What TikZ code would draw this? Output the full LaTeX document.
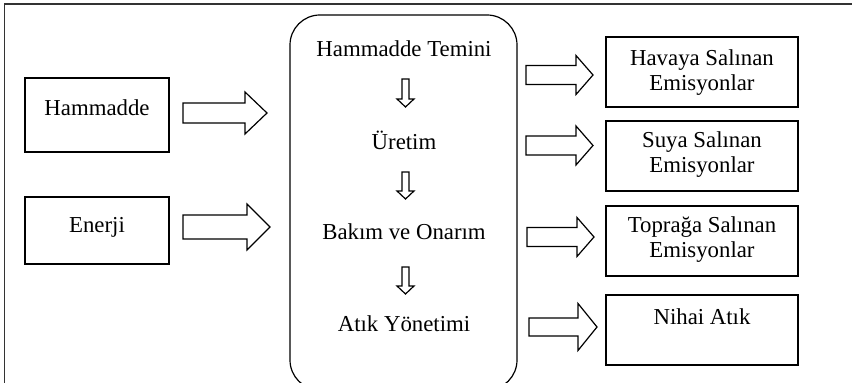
\documentclass[tikz,border=0pt]{standalone}
\usepackage{fontspec}
\setmainfont{Liberation Serif}
\usetikzlibrary{positioning}

% block arrow: start x, end x, mid y, shaft half, head half, head length
\newcommand{\blockarr}[7]{%
\draw[arrbody] (#2,#4-#5) -- (#3-#7,#4-#5) -- (#3-#7,#4-#6) -- (#3,#4)
  -- (#3-#7,#4+#6) -- (#3-#7,#4+#5) -- (#2,#4+#5) -- cycle;
\coordinate (#1) at (#3,#4);}
% small down arrow: name, x, top y, bottom y
\newcommand{\downarr}[4]{%
\draw[arrbody] (#2-3.5,#3) -- (#2+3.5,#3) -- (#2+3.5,#4-8) -- (#2+8.5,#4-8)
  -- (#2,#4) -- (#2-8.5,#4-8) -- (#2-3.5,#4-8) -- cycle;
\coordinate (#1) at (#2,#4);}

\tikzset{
  box/.style={draw, line width=0.6pt, inner sep=0pt},
  inbox/.style={box, minimum width=72pt},
  outbox/.style={box, minimum width=96pt, minimum height=35pt},
  txt/.style={font=\fontsize{11.4}{12.5}\selectfont, align=center, inner sep=0pt},
  arrbody/.style={draw, line width=0.6pt, line join=miter, fill=white},
  frame/.style={draw=black!80, line width=0.8pt}
}

\begin{document}
\begin{tikzpicture}[x=0.5pt, y=-0.5pt]
\clip (0,0) rectangle (852,383);
\fill[white] (0,0) rectangle (852,383);
\draw[frame] (4.5,383) -- (4.5,4) -- (852,4);

% inputs
\node[inbox, minimum height=37pt] (hm) at (97,115) {};
\node[txt] (hmt) at (97,108) {Hammadde};
\node[inbox, minimum height=33.5pt] (en) at (97,230.5) {};
\node[txt] (ent) at (97,227) {Enerji};

% process
\node[box, rounded corners=15pt, minimum width=113.5pt, minimum height=187.5pt] (proc) at (403.5,202.5) {};
\node[txt] (p1) at (404,49) {Hammadde Temini};
\node[txt] (p2) at (404,140) {Üretim};
\node[txt] (p3) at (404,232) {Bakım ve Onarım};
\node[txt] (p4) at (404,324) {Atık Yönetimi};
\downarr{d1}{405.5}{79}{107}
\downarr{d2}{405.5}{172}{199}
\downarr{d3}{405.5}{267}{294}

% outputs
\node[outbox] (o1) at (702,72) {};
\node[txt] (o1t) at (702,73) {Havaya Salınan\\Emisyonlar};
\node[outbox] (o2) at (702,156) {};
\node[txt] (o2t) at (702,155) {Suya Salınan\\Emisyonlar};
\node[outbox] (o3) at (702,241) {};
\node[txt] (o3t) at (702,240) {Toprağa Salınan\\Emisyonlar};
\node[outbox] (o4) at (702,330) {};
\node[txt] (o4t) at (702,317) {Nihai Atık};

% block arrows
\blockarr{a1}{183}{267}{113}{10}{21}{22}
\blockarr{a2}{183}{270}{227}{12}{23}{23}
\blockarr{b1}{526}{593}{75}{9.5}{19.5}{17}
\blockarr{b2}{526}{593}{145.5}{9.5}{19.5}{17}
\blockarr{b3}{527}{594}{237}{9.5}{19.5}{17}
\blockarr{b4}{529}{597}{327}{9}{23.5}{19}
\end{tikzpicture}
\end{document}
